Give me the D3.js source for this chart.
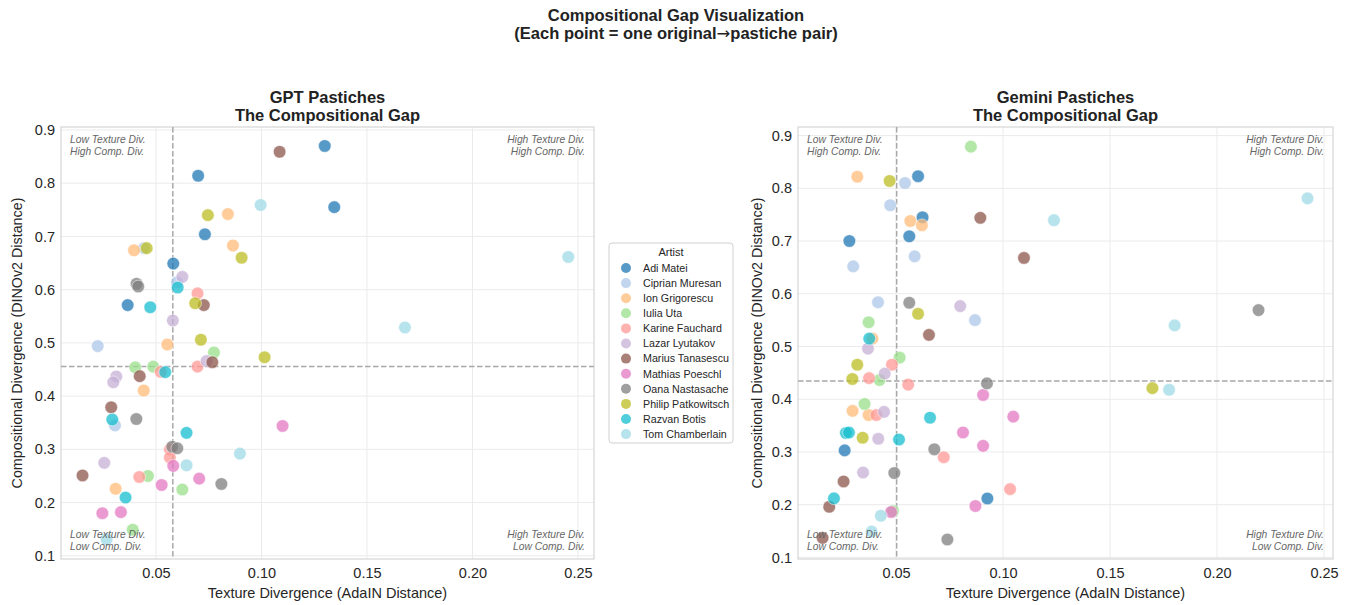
<!DOCTYPE html>
<html>
<head>
<meta charset="utf-8">
<script src="https://cdn.jsdelivr.net/npm/d3@7"></script>
<style>
  body { margin: 0; background: #fff; }
  svg { font-family: "Liberation Sans", Arial, sans-serif; }
</style>
</head>
<body>
<div id="chart"></div>
<script>
// artists and their colours
var artists = ["Adi Matei", "Ciprian Muresan", "Ion Grigorescu", "Iulia Uta", "Karine Fauchard",
  "Lazar Lyutakov", "Marius Tanasescu", "Mathias Poeschl", "Oana Nastasache",
  "Philip Patkowitsch", "Razvan Botis", "Tom Chamberlain"];
var colors = ["#1f77b4", "#aec7e8", "#ffbb78", "#98df8a", "#ff9896", "#c5b0d5",
  "#8c564b", "#e377c2", "#7f7f7f", "#bcbd22", "#17becf", "#9edae5"];

// GPT pastiches: texture (AdaIN) and composition (DINOv2), one row per artist
var gptTexture = [
  [0.130, 0.070, 0.1345, 0.0732, 0.0582, 0.0366],
  [0.0443, 0.060, 0.0224, 0.0306],
  [0.0841, 0.0865, 0.0396, 0.0554, 0.0442, 0.0309],
  [0.0775, 0.0402, 0.0487, 0.0462, 0.0625, 0.039],
  [0.0697, 0.0697, 0.0522, 0.0566, 0.0566, 0.0421],
  [0.0625, 0.058, 0.074, 0.0312, 0.0298, 0.0255],
  [0.1086, 0.0727, 0.0767, 0.0423, 0.0288, 0.0152],
  [0.110, 0.0582, 0.0527, 0.0705, 0.0246, 0.0334],
  [0.0408, 0.0416, 0.0407, 0.0577, 0.0601, 0.081],
  [0.0746, 0.0906, 0.0456, 0.0686, 0.0713, 0.1015],
  [0.0603, 0.0473, 0.0544, 0.0293, 0.0645, 0.0356],
  [0.0996, 0.2454, 0.168, 0.0898, 0.0645, 0.0266]
];
var gptComp = [
  [0.870, 0.814, 0.755, 0.704, 0.649, 0.571],
  [0.678, 0.614, 0.494, 0.345],
  [0.742, 0.683, 0.674, 0.497, 0.4105, 0.226],
  [0.482, 0.454, 0.4555, 0.250, 0.2245, 0.149],
  [0.593, 0.4555, 0.4455, 0.300, 0.2846, 0.248],
  [0.624, 0.542, 0.466, 0.437, 0.426, 0.2746],
  [0.859, 0.571, 0.4637, 0.4375, 0.379, 0.251],
  [0.344, 0.269, 0.233, 0.245, 0.180, 0.182],
  [0.611, 0.606, 0.357, 0.305, 0.302, 0.235],
  [0.740, 0.660, 0.678, 0.5745, 0.506, 0.473],
  [0.604, 0.567, 0.445, 0.356, 0.331, 0.2095],
  [0.759, 0.6615, 0.529, 0.292, 0.270, 0.131]
];

// Gemini pastiches
var gemTexture = [
  [0.0603, 0.0624, 0.0282, 0.0562, 0.026, 0.0927],
  [0.0542, 0.0473, 0.0587, 0.030, 0.0416, 0.0869],
  [0.0319, 0.0567, 0.0621, 0.039, 0.0297, 0.0372],
  [0.085, 0.0372, 0.0517, 0.0423, 0.0353, 0.0486],
  [0.0481, 0.0374, 0.0557, 0.0408, 0.0723, 0.1033],
  [0.080, 0.0369, 0.0447, 0.0444, 0.0417, 0.0346],
  [0.0894, 0.1098, 0.0654, 0.0255, 0.0188, 0.0157],
  [0.0907, 0.1048, 0.0813, 0.0907, 0.0871, 0.0477],
  [0.0562, 0.0925, 0.0679, 0.0492, 0.0740, 0.2194],
  [0.047, 0.0603, 0.0319, 0.0296, 0.0344, 0.1698],
  [0.0375, 0.0659, 0.0266, 0.028, 0.0514, 0.021],
  [0.1238, 0.2423, 0.1802, 0.1776, 0.0429, 0.0386]
];
var gemComp = [
  [0.823, 0.745, 0.700, 0.709, 0.303, 0.2118],
  [0.810, 0.768, 0.671, 0.652, 0.584, 0.550],
  [0.822, 0.738, 0.730, 0.515, 0.378, 0.370],
  [0.879, 0.546, 0.479, 0.4365, 0.391, 0.188],
  [0.4655, 0.440, 0.4277, 0.370, 0.290, 0.2295],
  [0.5766, 0.496, 0.4485, 0.376, 0.325, 0.261],
  [0.744, 0.668, 0.522, 0.244, 0.196, 0.137],
  [0.408, 0.367, 0.337, 0.3116, 0.1975, 0.186],
  [0.583, 0.430, 0.305, 0.260, 0.134, 0.569],
  [0.814, 0.562, 0.4655, 0.4384, 0.327, 0.421],
  [0.515, 0.365, 0.336, 0.337, 0.3235, 0.212],
  [0.7396, 0.781, 0.540, 0.418, 0.179, 0.149]
];

// median thresholds (dashed lines)
var gptThreshold = [0.058, 0.4555];
var gemThreshold = [0.0503, 0.4347];

var xTicks = [0.05, 0.10, 0.15, 0.20, 0.25];
var yTicks = [0.1, 0.2, 0.3, 0.4, 0.5, 0.6, 0.7, 0.8, 0.9];

var svgWidth = 1353, svgHeight = 605;

var svg = d3.select("#chart").append("svg")
  .attr("width", svgWidth)
  .attr("height", svgHeight);

// figure title
svg.append("text")
  .attr("x", 676).attr("y", 21)
  .attr("text-anchor", "middle")
  .attr("font-size", 16.5).attr("font-weight", "bold").attr("fill", "#222")
  .text("Compositional Gap Visualization");
var sub = svg.append("text")
  .attr("x", 676).attr("y", 39)
  .attr("text-anchor", "middle")
  .attr("font-size", 16.5).attr("font-weight", "bold").attr("fill", "#222");
sub.append("tspan").text("(Each point = one original");
sub.append("tspan").attr("font-family", "DejaVu Sans").attr("font-weight", "normal").text("\u2192");
sub.append("tspan").text("pastiche pair)");

function flatten(xs, ys) {
  var pts = [];
  xs.forEach(function(row, i) {
    row.forEach(function(v, j) {
      pts.push({ artist: i, x: v, y: ys[i][j] });
    });
  });
  return pts;
}

function drawPanel(opts) {
  var left = opts.left, right = opts.right, top = 127, bottom = 559;
  var x = d3.scaleLinear().domain(opts.xDomain).range([left, right]);
  var y = d3.scaleLinear().domain(opts.yDomain).range([bottom, top]);
  var g = svg.append("g");

  g.append("rect")
    .attr("x", left).attr("y", top)
    .attr("width", right - left).attr("height", bottom - top)
    .attr("fill", "#fff");

  // grid
  g.selectAll(".gx").data(xTicks).enter().append("line")
    .attr("x1", d => x(d)).attr("x2", d => x(d))
    .attr("y1", top).attr("y2", bottom)
    .attr("stroke", "#ebebeb").attr("stroke-width", 1);
  g.selectAll(".gy").data(yTicks).enter().append("line")
    .attr("x1", left).attr("x2", right)
    .attr("y1", d => y(d)).attr("y2", d => y(d))
    .attr("stroke", "#ebebeb").attr("stroke-width", 1);

  // axes, tick labels only
  var xAxis = g.append("g")
    .attr("transform", `translate(0, ${bottom})`)
    .call(d3.axisBottom(x).tickValues(xTicks).tickFormat(d3.format(".2f")).tickSize(0).tickPadding(9));
  var yAxis = g.append("g")
    .attr("transform", `translate(${left}, 0)`)
    .call(d3.axisLeft(y).tickValues(yTicks).tickFormat(d3.format(".1f")).tickSize(0).tickPadding(6));
  [xAxis, yAxis].forEach(function(a) {
    a.select(".domain").remove();
    a.selectAll("text").attr("font-size", 14.5).attr("fill", "#262626")
      .attr("font-family", "Liberation Sans, Arial, sans-serif");
  });

  // frame
  g.append("rect")
    .attr("x", left).attr("y", top)
    .attr("width", right - left).attr("height", bottom - top)
    .attr("fill", "none").attr("stroke", "#d6d6d6").attr("stroke-width", 1.2);

  // thresholds
  g.append("line")
    .attr("x1", x(opts.threshold[0])).attr("x2", x(opts.threshold[0]))
    .attr("y1", top).attr("y2", bottom)
    .attr("stroke", "#a8a8a8").attr("stroke-width", 1.5).attr("stroke-dasharray", "5.5,2.5");
  g.append("line")
    .attr("x1", left).attr("x2", right)
    .attr("y1", y(opts.threshold[1])).attr("y2", y(opts.threshold[1]))
    .attr("stroke", "#a8a8a8").attr("stroke-width", 1.5).attr("stroke-dasharray", "5.5,2.5");

  // points
  g.selectAll("circle.pt")
    .data(flatten(opts.xs, opts.ys))
    .enter().append("circle")
    .attr("class", "pt")
    .attr("cx", d => x(d.x))
    .attr("cy", d => y(d.y))
    .attr("r", 6.3)
    .attr("fill", d => colors[d.artist])
    .attr("fill-opacity", 0.75)
    .attr("stroke", "#fff").attr("stroke-width", 0.5);

  // quadrant notes
  var notes = [
    { x: left + 9, y: top + 16, anchor: "start", lines: ["Low Texture Div.", "High Comp. Div."] },
    { x: right - 9, y: top + 16, anchor: "end", lines: ["High Texture Div.", "High Comp. Div."] },
    { x: left + 9, y: bottom - 21, anchor: "start", lines: ["Low Texture Div.", "Low Comp. Div."] },
    { x: right - 9, y: bottom - 21, anchor: "end", lines: ["High Texture Div.", "Low Comp. Div."] }
  ];
  notes.forEach(function(n) {
    n.lines.forEach(function(t, i) {
      g.append("text")
        .attr("x", n.x).attr("y", n.y + i * 11.5)
        .attr("text-anchor", n.anchor)
        .attr("font-size", 10.3).attr("font-style", "italic").attr("fill", "#666")
        .text(t);
    });
  });

  // titles
  var cx = (left + right) / 2;
  g.append("text").attr("x", cx).attr("y", 103).attr("text-anchor", "middle")
    .attr("font-size", 16.5).attr("font-weight", "bold").attr("fill", "#222").text(opts.title);
  g.append("text").attr("x", cx).attr("y", 121).attr("text-anchor", "middle")
    .attr("font-size", 16.5).attr("font-weight", "bold").attr("fill", "#222").text("The Compositional Gap");

  g.append("text").attr("x", cx).attr("y", 598).attr("text-anchor", "middle")
    .attr("font-size", 14.5).attr("fill", "#262626").text("Texture Divergence (AdaIN Distance)");
  g.append("text")
    .attr("transform", `translate(${opts.yLabelX}, ${(top + bottom) / 2}) rotate(-90)`)
    .attr("text-anchor", "middle")
    .attr("font-size", 14.3).attr("fill", "#262626").text("Compositional Divergence (DINOv2 Distance)");
}

drawPanel({
  left: 61, right: 594, xDomain: [0.005, 0.2576], yDomain: [0.094, 0.9056],
  xs: gptTexture, ys: gptComp, threshold: gptThreshold,
  title: "GPT Pastiches", yLabelX: 22
});
drawPanel({
  left: 798, right: 1333, xDomain: [0.0042, 0.2542], yDomain: [0.097, 0.9163],
  xs: gemTexture, ys: gemComp, threshold: gemThreshold,
  title: "Gemini Pastiches", yLabelX: 762
});

// legend
var legend = svg.append("g");
legend.append("rect")
  .attr("x", 609).attr("y", 243).attr("width", 124).attr("height", 200)
  .attr("rx", 3).attr("fill", "#fff").attr("stroke", "#d0d0d0");
legend.append("text")
  .attr("x", 671).attr("y", 256).attr("text-anchor", "middle")
  .attr("font-size", 11).attr("fill", "#262626").text("Artist");
var items = legend.selectAll("g.item").data(artists).enter().append("g")
  .attr("transform", (d, i) => `translate(0, ${268 + i * 15.1})`);
items.append("circle")
  .attr("cx", 626).attr("cy", 0).attr("r", 5)
  .attr("fill", (d, i) => colors[i]).attr("fill-opacity", 0.75);
items.append("text")
  .attr("x", 643).attr("y", 3.8)
  .attr("font-size", 10.7).attr("fill", "#262626")
  .text(d => d);
</script>
</body>
</html>
